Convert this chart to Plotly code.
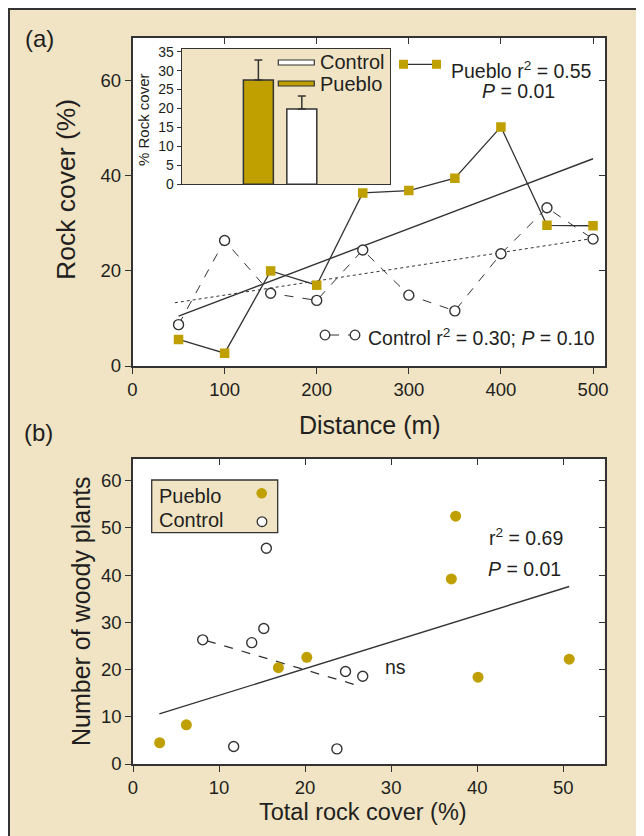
import plotly.graph_objects as go

# ---------------- data ----------------
distance = [50, 100, 150, 200, 250, 300, 350, 400, 450, 500]
pueblo_rock = [5.6, 2.7, 20.0, 17.0, 36.4, 36.9, 39.5, 50.3, 29.6, 29.5]
control_rock = [8.7, 26.4, 15.3, 13.8, 24.4, 14.9, 11.6, 23.6, 33.3, 26.7]
pueblo_fit_x = [50, 500]
pueblo_fit_y = [10.5, 43.6]
control_fit_x = [46, 502]
control_fit_y = [13.3, 26.9]

inset_groups = ["Pueblo", "Control"]
inset_mean = [27.5, 19.9]
inset_err = [5.3, 3.4]

pueblo_cover = [3.1, 6.2, 16.9, 20.2, 37.5, 37.0, 40.1, 50.7]
pueblo_plants = [4.5, 8.3, 20.4, 22.6, 52.5, 39.2, 18.4, 22.2]
control_cover = [8.1, 11.7, 13.8, 15.2, 15.5, 24.7, 23.7, 26.7]
control_plants = [26.3, 3.7, 25.7, 28.7, 45.7, 19.6, 3.2, 18.6]
b_pueblo_fit_x = [3.06, 50.7]
b_pueblo_fit_y = [10.6, 37.6]
b_control_fit_x = [8.6, 26.0]
b_control_fit_y = [26.1, 16.7]

a_xticks = [0, 100, 200, 300, 400, 500]
a_yticks = [0, 20, 40, 60]
i_yticks = [0, 5, 10, 15, 20, 25, 30, 35]
b_xticks = [0, 10, 20, 30, 40, 50]
b_yticks = [0, 10, 20, 30, 40, 50, 60]

# ---------------- style ----------------
W, H = 644, 836
OFF = 8  # page body margin in the browser
GOLD = "#BFA000"
BEIGE = "#F0E4C4"
INK = "#231F20"
LINE = "#333333"
FONT = "Liberation Sans, Arial, sans-serif"


def px(x):
    return (x - OFF) / W


def py(y):
    return 1 - (y - OFF) / H


A_X = [px(132.5), px(605)]
A_Y = [py(366), py(38)]
I_X = [px(181.7), px(390)]
I_Y = [py(184.3), py(49)]
B_X = [px(133), px(604.5)]
B_Y = [py(764), py(459)]

A_XR = [0, 513]
A_YR = [0, 69]
B_XR = [0, 54.8]
B_YR = [0, 64.6]

fig = go.Figure()

# ---- panel (a) ----
fig.add_trace(go.Scatter(x=pueblo_fit_x, y=pueblo_fit_y, mode="lines",
                         line=dict(color=LINE, width=1.4), showlegend=False,
                         xaxis="x", yaxis="y"))
fig.add_trace(go.Scatter(x=control_fit_x, y=control_fit_y, mode="lines",
                         line=dict(color=LINE, width=1, dash="dot"), showlegend=False,
                         xaxis="x", yaxis="y"))
fig.add_trace(go.Scatter(x=distance, y=control_rock, mode="lines+markers",
                         line=dict(color=LINE, width=1, dash="dash"),
                         marker=dict(symbol="circle", size=10, color="white",
                                     line=dict(color=LINE, width=1.4)),
                         showlegend=False, xaxis="x", yaxis="y"))
fig.add_trace(go.Scatter(x=distance, y=pueblo_rock, mode="lines+markers",
                         line=dict(color=LINE, width=1.3),
                         marker=dict(symbol="square", size=9.5, color=GOLD,
                                     line=dict(width=0)),
                         showlegend=False, xaxis="x", yaxis="y"))

# ---- inset ----
fig.add_trace(go.Bar(x=inset_groups, y=inset_mean,
                     marker=dict(color=[GOLD, "white"], line=dict(color=LINE, width=1.5)),
                     width=0.69,
                     error_y=dict(type="data", array=inset_err, arrayminus=[0, 0],
                                  symmetric=False, color=LINE, thickness=1.5, width=4),
                     showlegend=False, xaxis="x3", yaxis="y3"))

# ---- panel (b) ----
fig.add_trace(go.Scatter(x=b_pueblo_fit_x, y=b_pueblo_fit_y, mode="lines",
                         line=dict(color=LINE, width=1.4), showlegend=False,
                         xaxis="x2", yaxis="y2"))
fig.add_trace(go.Scatter(x=b_control_fit_x, y=b_control_fit_y, mode="lines",
                         line=dict(color=LINE, width=1.3, dash="dash"), showlegend=False,
                         xaxis="x2", yaxis="y2"))
fig.add_trace(go.Scatter(x=pueblo_cover, y=pueblo_plants, mode="markers",
                         marker=dict(symbol="circle", size=11, color=GOLD, line=dict(width=0)),
                         showlegend=False, xaxis="x2", yaxis="y2"))
fig.add_trace(go.Scatter(x=control_cover, y=control_plants, mode="markers",
                         marker=dict(symbol="circle", size=10, color="white",
                                     line=dict(color=LINE, width=1.4)),
                         showlegend=False, xaxis="x2", yaxis="y2"))

# dummy traces for inside (mirror) tick axes
fig.add_trace(go.Scatter(x=[None], y=[None], xaxis="x4", yaxis="y4", showlegend=False))
fig.add_trace(go.Scatter(x=[None], y=[None], xaxis="x5", yaxis="y5", showlegend=False))

tickfont = dict(family=FONT, size=18.5, color=INK)
common = dict(showgrid=False, zeroline=False, showline=True, linecolor=LINE, linewidth=1.5,
              ticks="outside", ticklen=6, tickwidth=1.3, tickcolor=LINE, tickfont=tickfont,
              automargin=False, mirror=True)
inside = dict(showgrid=False, zeroline=False, showline=False, ticks="inside", ticklen=6,
              tickwidth=1.3, tickcolor=LINE, showticklabels=False, automargin=False)

fig.update_layout(
    xaxis=dict(domain=A_X, range=A_XR, tickvals=a_xticks, anchor="y", **common),
    yaxis=dict(domain=A_Y, range=A_YR, tickvals=a_yticks, anchor="x", **common),
    xaxis4=dict(domain=A_X, range=A_XR, tickvals=a_xticks, overlaying="x", side="top", anchor="y4", **inside),
    yaxis4=dict(domain=A_Y, range=A_YR, tickvals=a_yticks, overlaying="y", side="right", anchor="x4", **inside),
    xaxis3=dict(domain=I_X, range=[-1.765, 3.03], anchor="y3", showgrid=False, zeroline=False,
                showline=True, mirror=True, linecolor=LINE, linewidth=1.3, ticks="",
                showticklabels=False, automargin=False, type="category"),
    yaxis3=dict(domain=I_Y, range=[0, 35.7], tickvals=i_yticks, anchor="x3", showgrid=False,
                zeroline=False, showline=True, mirror=True, linecolor=LINE, linewidth=1.3,
                ticks="outside", ticklen=4, tickwidth=1.2, tickcolor=LINE,
                tickfont=dict(family=FONT, size=14, color=INK), automargin=False),
    xaxis2=dict(domain=B_X, range=B_XR, tickvals=b_xticks, anchor="y2", **common),
    yaxis2=dict(domain=B_Y, range=B_YR, tickvals=b_yticks, anchor="x2", **common),
    xaxis5=dict(domain=B_X, range=B_XR, tickvals=b_xticks, overlaying="x2", side="top", anchor="y5", **inside),
    yaxis5=dict(domain=B_Y, range=B_YR, tickvals=b_yticks, overlaying="y2", side="right", anchor="x5", **inside),
    width=W, height=H, margin=dict(l=0, r=0, t=0, b=0),
    paper_bgcolor=BEIGE, plot_bgcolor="rgba(0,0,0,0)",
    showlegend=False,
    font=dict(family=FONT, color=INK),
)

shapes = []
# outer frame lines (top and left edge of the figure)
shapes.append(dict(type="line", xref="paper", yref="paper", x0=0, x1=1, y0=1 - 1 / H, y1=1 - 1 / H,
                   line=dict(color=LINE, width=2), layer="below"))
shapes.append(dict(type="line", xref="paper", yref="paper", x0=1 / W, x1=1 / W, y0=0, y1=1,
                   line=dict(color=LINE, width=2), layer="below"))
# plot backgrounds
shapes.append(dict(type="rect", xref="x domain", yref="y domain", x0=0, x1=1, y0=0, y1=1,
                   fillcolor="white", line=dict(width=0), layer="below"))
shapes.append(dict(type="rect", xref="x2 domain", yref="y2 domain", x0=0, x1=1, y0=0, y1=1,
                   fillcolor="white", line=dict(width=0), layer="below"))
shapes.append(dict(type="rect", xref="x3 domain", yref="y3 domain", x0=0, x1=1, y0=0, y1=1,
                   fillcolor=BEIGE, line=dict(width=0), layer="below"))

# panel (a) legend icons
shapes.append(dict(type="line", xref="paper", yref="paper", x0=px(403), x1=px(437),
                   y0=py(64.3), y1=py(64.3), line=dict(color=LINE, width=1.3)))
for cx in (403.5, 436.5):
    shapes.append(dict(type="rect", xref="paper", yref="paper", x0=px(cx - 4.5), x1=px(cx + 4.5),
                       y0=py(64.3 + 4.5), y1=py(64.3 - 4.5), fillcolor=GOLD, line=dict(width=0)))
shapes.append(dict(type="line", xref="paper", yref="paper", x0=px(330), x1=px(350),
                   y0=py(335), y1=py(335), line=dict(color=LINE, width=1, dash="dash")))
for cx in (325, 355):
    shapes.append(dict(type="circle", xref="paper", yref="paper", x0=px(cx - 4.8), x1=px(cx + 4.8),
                       y0=py(335 + 4.8), y1=py(335 - 4.8), fillcolor="white",
                       line=dict(color=LINE, width=1.3)))

# inset legend patches
shapes.append(dict(type="rect", xref="paper", yref="paper", x0=px(278.3), x1=px(314.3),
                   y0=py(65), y1=py(60), fillcolor="white", line=dict(color=LINE, width=1.2)))
shapes.append(dict(type="rect", xref="paper", yref="paper", x0=px(278.3), x1=px(314.3),
                   y0=py(86), y1=py(81), fillcolor=GOLD, line=dict(color=LINE, width=1.2)))

# panel (b) legend box and symbols
shapes.append(dict(type="rect", xref="paper", yref="paper", x0=px(151.7), x1=px(277.7),
                   y0=py(532.7), y1=py(480), fillcolor=BEIGE, line=dict(color=LINE, width=1.3)))
shapes.append(dict(type="circle", xref="paper", yref="paper", x0=px(261.7 - 5.3), x1=px(261.7 + 5.3),
                   y0=py(493.3 + 5.3), y1=py(493.3 - 5.3), fillcolor=GOLD, line=dict(width=0)))
shapes.append(dict(type="circle", xref="paper", yref="paper", x0=px(262 - 4.8), x1=px(262 + 4.8),
                   y0=py(521.7 + 4.8), y1=py(521.7 - 4.8), fillcolor="white",
                   line=dict(color=LINE, width=1.3)))
fig.update_layout(shapes=shapes)


def ann(text, x, y, size, xanchor="left", yanchor="middle", angle=0):
    return dict(text=text, xref="paper", yref="paper", x=px(x), y=py(y), showarrow=False,
                xanchor=xanchor, yanchor=yanchor, textangle=angle,
                font=dict(family=FONT, size=size, color=INK))


annotations = [
    ann("(a)", 23, 38, 24),
    ann("(b)", 22, 432, 24),
    ann("Rock cover (%)", 66, 190, 26.5, xanchor="center", angle=-90),
    ann("Distance (m)", 370, 425, 25, xanchor="center"),
    ann("Number of woody plants", 81, 611, 25, xanchor="center", angle=-90),
    ann("Total rock cover (%)", 363, 812, 23.5, xanchor="center"),
    ann("% Rock cover", 143, 120, 15, xanchor="center", angle=-90),
    ann("Control", 318, 62, 20),
    ann("Pueblo", 318, 84, 20),
    ann("Pueblo r<sup>2</sup> = 0.55", 449, 70, 19.5),
    ann("<i>P</i> = 0.01", 518, 91, 19.5, xanchor="center"),
    ann("Control r<sup>2</sup> = 0.30; <i>P</i> = 0.10", 366, 337, 19.5),
    ann("Pueblo", 157, 496, 20),
    ann("Control", 157, 520, 20),
    ann("r<sup>2</sup> = 0.69", 487, 537, 19.5),
    ann("<i>P</i> = 0.01", 486, 569, 19.5),
    ann("ns", 395, 667, 19.5, xanchor="center"),
]
fig.update_layout(annotations=annotations)

fig.write_html("out.html")
